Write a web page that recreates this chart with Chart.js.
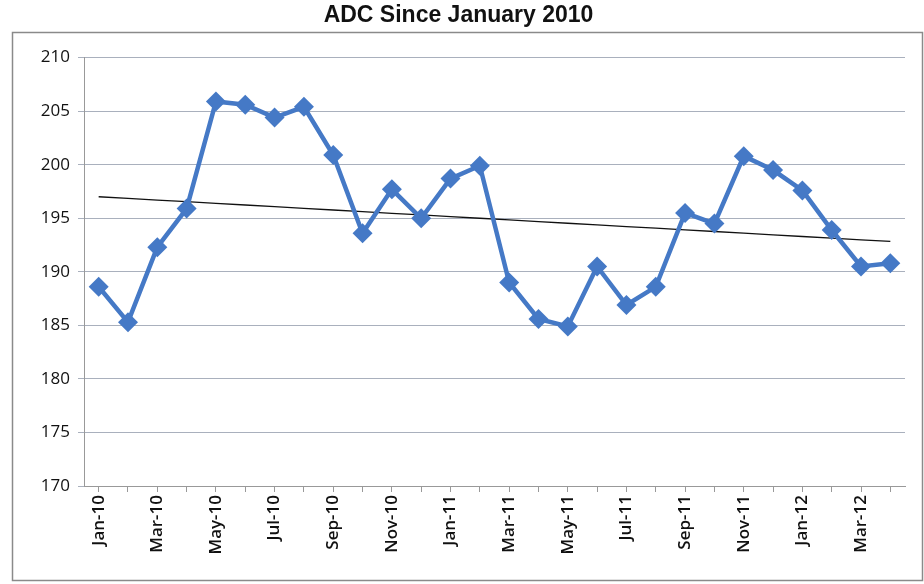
<!DOCTYPE html>
<html>
<head>
<meta charset="utf-8">
<script src="https://cdn.jsdelivr.net/npm/chart.js@4/dist/chart.umd.min.js"></script>
<style>
html,body{margin:0;padding:0;background:#fff}
#wrap{width:924px;height:584px;position:relative}
</style>
</head>
<body>
<div id="wrap"><canvas id="grafico" width="924" height="584"></canvas></div>
<script>
// monthly ADC, Jan-10 .. Apr-12
let meses = ["Jan-10","Feb-10","Mar-10","Apr-10","May-10","Jun-10","Jul-10","Aug-10","Sep-10","Oct-10","Nov-10","Dec-10",
"Jan-11","Feb-11","Mar-11","Apr-11","May-11","Jun-11","Jul-11","Aug-11","Sep-11","Oct-11","Nov-11","Dec-11",
"Jan-12","Feb-12","Mar-12","Apr-12"]

let adc = [188.6,185.3,192.3,195.9,205.9,205.6,204.4,205.4,200.9,193.6,197.7,195.0,
198.7,199.9,189.0,185.6,184.9,190.5,186.9,188.6,195.5,194.5,200.8,199.5,
197.6,193.9,190.5,190.8]

let yTicks = [170,175,180,185,190,195,200,205,210]

// linear trend over the series (least squares)
function tendencia(v){
let n = v.length
let sx=0, sy=0, sxy=0, sxx=0
v.forEach((y,i)=>{ sx+=i; sy+=y; sxy+=i*y; sxx+=i*i })
let b = (n*sxy - sx*sy)/(n*sxx - sx*sx)
let a = (sy - b*sx)/n
return v.map((y,i)=>a + b*i)
}

let moldura = {
id:"moldura",
beforeDraw(chart){
let c = chart.ctx
c.save()
c.fillStyle="#fff"
c.fillRect(0,0,chart.width,chart.height)
c.strokeStyle="#8a8a8a"
c.lineWidth=1.5
c.strokeRect(12.5,32.5,chart.width-14,chart.height-36)
c.restore()
}
}

new Chart(document.getElementById("grafico"),{
type:"line",
data:{
labels:meses,
datasets:[{
data:adc,
borderColor:"#4579c6",
backgroundColor:"#4579c6",
borderWidth:4.5,
pointStyle:"rectRot",
pointRadius:10,
pointHoverRadius:10,
pointBorderWidth:0,
tension:0
},{
data:tendencia(adc),
borderColor:"#111",
borderWidth:1.3,
pointRadius:0,
tension:0
}]
},
options:{
responsive:false,
animation:false,
layout:{padding:{left:12,right:19,top:0,bottom:0}},
plugins:{
legend:{display:false},
tooltip:{enabled:false},
title:{
display:true,
text:"ADC Since January 2010",
color:"#111",
font:{family:"Liberation Sans, Arial",size:23,weight:"bold"},
padding:{top:2,bottom:28}
}
},
scales:{
x:{
offset:true,
grid:{display:true,drawOnChartArea:false,drawTicks:true,tickLength:6,color:"#999"},
border:{color:"#999",width:1},
ticks:{
autoSkip:false,
maxRotation:90,
minRotation:90,
color:"#111",
font:{family:"Open Sans, Calibri, sans-serif",size:17,weight:"600"},
callback:function(v,i){ return i%2==0 ? meses[i] : "" }
},
afterFit(s){ s.height = 98 }
},
y:{
min:170,
max:210,
afterBuildTicks(s){ s.ticks = yTicks.map(v=>({value:v})) },
grid:{color:"#a9b0bd",lineWidth:1,tickLength:6},
border:{color:"#999",width:1},
ticks:{
color:"#111",
padding:8,
font:{family:"Open Sans, Calibri, sans-serif",size:17}
},
afterFit(s){ s.width = 72 }
}
}
},
plugins:[moldura]
})
</script>
</body>
</html>
